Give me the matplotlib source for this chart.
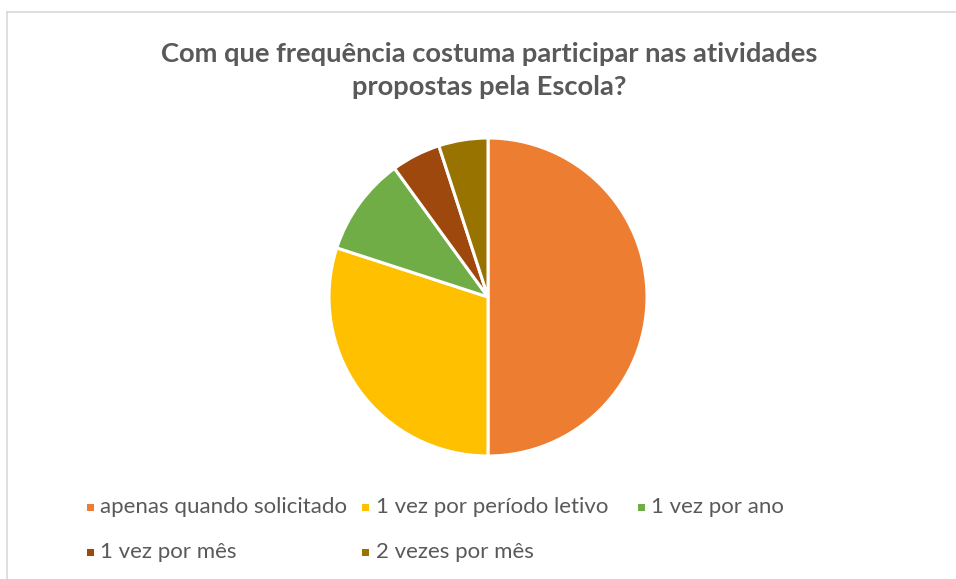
import matplotlib
matplotlib.use("Agg")
import matplotlib.pyplot as plt
from matplotlib.patches import Rectangle
from matplotlib.lines import Line2D

title = "Com que frequência costuma participar nas atividades\npropostas pela Escola?"
categories = ["apenas quando solicitado", "1 vez por período letivo", "1 vez por ano",
              "1 vez por mês", "2 vezes por mês"]
values = [50, 30, 10, 5, 5]
colors = ["#ED7D31", "#FFC000", "#70AD47", "#9E480E", "#997300"]

W, H = 956, 579
fig = plt.figure(figsize=(W / 100, H / 100), dpi=100)
fig.patch.set_facecolor("white")

# border lines (top and left)
fig.add_artist(Line2D([7 / W, 1], [1 - 12 / H, 1 - 12 / H], color="#D9D9D9", lw=1.2))
fig.add_artist(Line2D([7 / W, 7 / W], [0, 1 - 12 / H], color="#D9D9D9", lw=1.2))

cx, cy, r = 488, 297, 159
ax = fig.add_axes([(cx - r) / W, (H - cy - r) / H, 2 * r / W, 2 * r / H])
ax.pie(values, colors=colors, startangle=90, counterclock=False, radius=1,
       wedgeprops=dict(edgecolor="white", linewidth=2.2))
ax.set_xlim(-1.0, 1.0)
ax.set_ylim(-1.0, 1.0)
ax.set_aspect("equal")
ax.axis("off")

fig.text(489 / W, 1 - 70 / H, title, ha="center", va="center", fontsize=19.7,
         fontweight="bold", color="#595959", family="Lato", linespacing=1.45)

x0, dx = 90, 275.5
rows_y = [507, 552]
for i, (lab, col) in enumerate(zip(categories, colors)):
    c, rw = i % 3, i // 3
    x = x0 + c * dx
    y = rows_y[rw]
    fig.add_artist(Rectangle(((x - 3.5) / W, 1 - (y + 3.5) / H), 7 / W, 7 / H,
                             transform=fig.transFigure, facecolor=col, edgecolor="none"))
    fig.text((x + 10) / W, 1 - y / H, lab, ha="left", va="center", fontsize=16,
             color="#595959", family="Lato")

fig.savefig("out.png", dpi=100)
